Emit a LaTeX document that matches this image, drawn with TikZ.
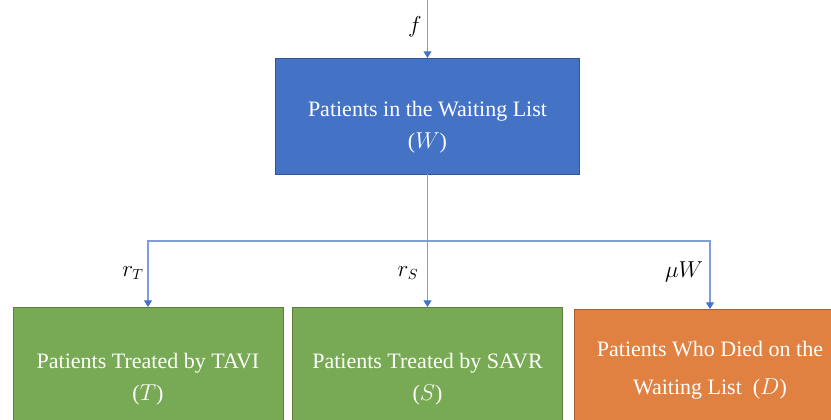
\documentclass[tikz,border=0pt]{standalone}
\usepackage{fontspec}
\setmainfont{Liberation Serif}
\usetikzlibrary{arrows.meta, positioning}
\definecolor{waitblue}{HTML}{4472C4}
\definecolor{treatgreen}{HTML}{78A954}
\definecolor{deadorange}{HTML}{E08142}
\definecolor{flowblue}{HTML}{7E9DDA}
\newcommand{\boxtext}[2][-7.5pt]{\raisebox{#1}[\height][\depth]{\begin{tabular}{@{}c@{}}#2\end{tabular}}}
\tikzset{stock/.style={draw=#1!75!black, fill=#1, text=white, inner sep=0pt, outer sep=0pt, line width=0.6pt, font=\fontsize{16.5}{24}\selectfont},
         flow/.style={draw=flowblue, line width=0.8pt, -{Triangle[width=6pt,length=5pt,color=waitblue]}},
         rate/.style={font=\fontsize{16}{18}\selectfont}}

\begin{document}
\begin{tikzpicture}[x=0.75pt,y=-0.75pt]
                 \useasboundingbox (0,0) rectangle (831,419);
                 \clip (0,0) rectangle (831,419);

                 \node[stock=waitblue, minimum width=228pt, minimum height=87pt] (W) at (427.5,116) {\boxtext{Patients in the Waiting List\\($W$)}};
                 \node[stock=treatgreen, minimum width=202.5pt, minimum height=90pt] (T) at (148,367) {\boxtext[-8pt]{Patients Treated by TAVI\\($T$)}};
                 \node[stock=treatgreen, minimum width=202.5pt, minimum height=90pt] (S) at (427.5,367) {\boxtext[-8pt]{Patients Treated by SAVR\\($S$)}};
                 \node[stock=deadorange, minimum width=204pt, minimum height=90pt] (D) at (710,369) {\boxtext[0pt]{Patients Who Died on the\\[4.5pt]Waiting List\enspace($D$)}};

                 \coordinate (src) at (W.north |- 0,0);
                 \coordinate (split) at (W.south |- 0,241);

                 \draw[flow] (src) -- (W.north);
                 \draw[flow, -] (W.south) -- (split);
                 \draw[flow] (split) -| (T.north);
                 \draw[flow] (split) -- (S.north);
                 \draw[flow] (split) -| (D.north);

                 \node[rate] (lf) at (415,27) {$f$};
                 \node[rate] (lT) at (133,273) {$r_T$};
                 \node[rate] (lS) at (408,273) {$r_S$};
                 \node[rate] (lD) at (684,272) {$\mu W$};
\end{tikzpicture}
\end{document}
